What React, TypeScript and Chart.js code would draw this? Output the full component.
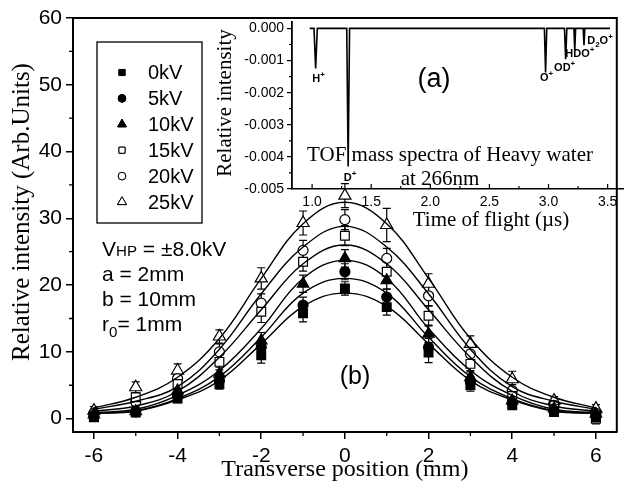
import React, { useEffect, useRef } from "react";
import { Chart, registerables } from "chart.js";
import { drawPoint } from "chart.js/helpers";

Chart.register(...registerables);

// ---------- panel (b): transverse profiles ----------
const positions = [-6, -5, -4, -3, -2, -1, 0, 1, 2, 3, 4, 5, 6];
const seriesLabels = ["0kV", "5kV", "10kV", "15kV", "20kV", "25kV"];

const values0kV = [0.3, 0.9, 3.0, 5.2, 9.5, 15.8, 19.5, 16.7, 9.9, 5.0, 2.0, 1.0, 0.2];
const values5kV = [0.5, 1.0, 3.4, 5.7, 10.7, 17.0, 22.0, 18.2, 10.7, 5.5, 2.4, 1.2, 0.5];
const values10kV = [0.6, 1.1, 4.2, 6.7, 11.7, 20.2, 24.0, 20.7, 12.7, 6.2, 2.7, 1.5, 0.7];
const values15kV = [0.2, 3.2, 5.2, 8.5, 16.0, 23.5, 27.4, 22.0, 15.4, 8.2, 3.4, 1.5, 0.0];
const values20kV = [0.8, 2.5, 6.0, 10.0, 17.3, 25.2, 29.8, 24.0, 18.4, 9.7, 4.2, 2.0, 0.8];
const values25kV = [1.2, 4.7, 7.2, 12.3, 21.0, 29.3, 33.4, 29.0, 20.2, 11.2, 5.9, 2.7, 1.5];

const errors0kV = [0.5, 0.4, 0.6, 0.8, 1.2, 1.3, 1.0, 1.2, 1.5, 0.9, 0.6, 0.5, 0.6];
const errors5kV = [0.5, 0.4, 0.6, 0.8, 1.0, 1.2, 1.2, 1.2, 1.3, 0.8, 0.6, 0.5, 0.6];
const errors10kV = [0.5, 0.5, 0.7, 1.0, 1.2, 1.3, 1.3, 1.3, 1.3, 0.8, 0.7, 0.5, 0.6];
const errors15kV = [0.6, 0.6, 0.8, 1.2, 1.6, 1.4, 1.5, 1.5, 1.5, 1.0, 0.8, 0.6, 0.8];
const errors20kV = [0.6, 0.6, 0.9, 1.2, 1.4, 1.5, 1.5, 1.5, 1.5, 1.0, 0.9, 0.6, 0.7];
const errors25kV = [0.6, 0.8, 1.0, 1.0, 1.6, 1.8, 1.8, 2.5, 1.5, 1.2, 1.2, 0.6, 0.6];

const fit0kV = [0.8, 1.1, 2.8, 5.7, 11.2, 16.8, 18.8, 16.8, 11.2, 5.7, 2.8, 1.1, 0.8];
const fit5kV = [0.8, 1.2, 3.0, 6.3, 12.2, 18.8, 21.0, 18.8, 12.2, 6.3, 3.0, 1.2, 0.8];
const fit10kV = [0.9, 1.4, 3.5, 7.2, 13.5, 21.0, 23.7, 21.0, 13.5, 7.2, 3.5, 1.4, 0.9];
const fit15kV = [1.1, 1.9, 4.1, 9.2, 16.3, 23.2, 26.0, 23.2, 16.3, 9.2, 4.1, 1.9, 1.1];
const fit20kV = [1.4, 2.6, 4.8, 10.4, 18.7, 25.7, 28.8, 25.7, 18.7, 10.4, 4.8, 2.6, 1.4];
const fit25kV = [1.6, 3.2, 6.2, 12.0, 21.0, 29.2, 32.4, 29.2, 21.0, 12.0, 6.2, 3.2, 1.6];

const xTickValues = [-6, -4, -2, 0, 2, 4, 6];
const xMinorTicks = [-5, -3, -1, 1, 3, 5];
const yTickValues = [0, 10, 20, 30, 40, 50, 60];
const yMinorTicks = [5, 15, 25, 35, 45, 55];

// ---------- panel (a): TOF mass spectrum ----------
const tofTime = [0.98, 1.016, 1.03, 1.044, 1.293, 1.305, 1.317, 2.965, 2.975, 2.985, 3.135, 3.145, 3.155, 3.215, 3.222, 3.229, 3.293, 3.3, 3.307, 3.52];
const tofIntensity = [0, 0, -0.00125, 0, 0, -0.0043, 0, 0, -0.00137, 0, 0, -0.00096, 0, 0, -0.0007, 0, 0, -0.00052, 0, 0];
const insetXTicks = [1.0, 1.5, 2.0, 2.5, 3.0, 3.5];
const insetXTickLabels = ["1.0", "1.5", "2.0", "2.5", "3.0", "3.5"];
const insetXMinor = [1.25, 1.75, 2.25, 2.75, 3.25];
const insetYTicks = [0, -0.001, -0.002, -0.003, -0.004, -0.005];
const insetYTickLabels = ["0.000", "-0.001", "-0.002", "-0.003", "-0.004", "-0.005"];
const insetYMinor = [-0.0005, -0.0015, -0.0025, -0.0035, -0.0045];
const ionPeakTimes = [1.03, 1.305, 2.975, 3.145, 3.222, 3.3];
const ionPeakDepths = [-0.00125, -0.0043, -0.00137, -0.00096, -0.0007, -0.00052];

type Seg = { t: string; sub?: boolean; sup?: boolean; small?: boolean };
const ionLabels: Seg[][] = [
  [{ t: "H" }, { t: "+", sup: true }],
  [{ t: "D" }, { t: "+", sup: true }],
  [{ t: "O" }, { t: "+", sup: true }],
  [{ t: "OD" }, { t: "+", sup: true }],
  [{ t: "HDO" }, { t: "+", sup: true }],
  [{ t: "D" }, { t: "2", sub: true }, { t: "O" }, { t: "+", sup: true }],
];

const SANS = '"Liberation Sans", Arial, sans-serif';
const SERIF = '"Liberation Serif", "Times New Roman", serif';

const markerStyles = ["rect", "circle", "triangle", "rect", "circle", "triangle"];
const markerFilled = [true, true, true, false, false, false];
const markerRadius = [6.2, 5, 6.6, 6.2, 5, 7];
const legendRadius = [4.3, 3.8, 5, 4.3, 3.8, 5.2];

function drawRich(ctx: CanvasRenderingContext2D, segs: Seg[], x: number, y: number, size: number, family: string, weight = "normal", align = "left") {
  const parts = segs.map((s) => {
    const sz = s.sub || s.sup || s.small ? size * 0.72 : size;
    ctx.font = `${weight} ${sz}px ${family}`;
    return { ...s, sz, w: ctx.measureText(s.t).width };
  });
  const total = parts.reduce((a, p) => a + p.w, 0);
  let cx = align === "center" ? x - total / 2 : x;
  ctx.textAlign = "left";
  ctx.textBaseline = "alphabetic";
  for (const p of parts) {
    ctx.font = `${weight} ${p.sz}px ${family}`;
    const dy = p.sub ? size * 0.3 : p.sup ? -size * 0.45 : 0;
    ctx.fillText(p.t, cx, y + dy);
    cx += p.w;
  }
}

const errorBarPlugin = {
  id: "errorBars",
  beforeDatasetsDraw(chart: any) {
    const { ctx, scales } = chart;
    ctx.save();
    ctx.strokeStyle = "#000";
    ctx.lineWidth = 1.2;
    chart.data.datasets.forEach((ds: any) => {
      if (!ds.errors) return;
      ds.data.forEach((pt: any, j: number) => {
        const e = ds.errors[j];
        const px = scales.x.getPixelForValue(pt.x);
        const top = scales.y.getPixelForValue(pt.y + e);
        const bot = scales.y.getPixelForValue(pt.y - e);
        ctx.beginPath();
        ctx.moveTo(px, top);
        ctx.lineTo(px, bot);
        ctx.moveTo(px - 4, top);
        ctx.lineTo(px + 4, top);
        ctx.moveTo(px - 4, bot);
        ctx.lineTo(px + 4, bot);
        ctx.stroke();
      });
    });
    ctx.restore();
  },
};

const mainDecorPlugin = {
  id: "mainDecor",
  afterDraw(chart: any) {
    const { ctx, chartArea: a, scales } = chart;
    const x = scales.x;
    const y = scales.y;
    ctx.save();
    ctx.strokeStyle = "#000";
    ctx.fillStyle = "#000";
    // frame
    ctx.lineWidth = 2;
    ctx.beginPath();
    ctx.moveTo(a.left, a.top);
    ctx.lineTo(a.right, a.top);
    ctx.lineTo(a.right, a.bottom);
    ctx.stroke();
    // minor ticks
    ctx.lineWidth = 1.3;
    ctx.beginPath();
    for (const v of xMinorTicks) {
      const px = x.getPixelForValue(v);
      ctx.moveTo(px, a.bottom);
      ctx.lineTo(px, a.bottom + 4);
    }
    for (const v of yMinorTicks) {
      const py = y.getPixelForValue(v);
      ctx.moveTo(a.left, py);
      ctx.lineTo(a.left - 4, py);
    }
    ctx.stroke();
    // legend
    ctx.lineWidth = 1.3;
    ctx.strokeRect(97, 42, 105, 181);
    seriesLabels.forEach((lab, i) => {
      const cy = 72.5 + i * 25.9;
      ctx.fillStyle = markerFilled[i] ? "#000" : "#fff";
      ctx.strokeStyle = "#000";
      ctx.lineWidth = 1;
      drawPoint(ctx, { pointStyle: markerStyles[i] as any, radius: legendRadius[i], rotation: 0, borderWidth: 1 } as any, 122, cy);
      ctx.fill();
      ctx.stroke();
      ctx.fillStyle = "#000";
      ctx.font = `20px ${SANS}`;
      ctx.textAlign = "left";
      ctx.textBaseline = "middle";
      ctx.fillText(lab, 148, cy + 1);
    });
    // parameters
    ctx.fillStyle = "#000";
    drawRich(ctx, [{ t: "V" }, { t: "HP", small: true }, { t: " = \u00b18.0kV" }], 102, 256, 21, SANS);
    drawRich(ctx, [{ t: "a = 2mm" }], 102, 281, 21, SANS);
    drawRich(ctx, [{ t: "b = 10mm" }], 102, 306, 21, SANS);
    drawRich(ctx, [{ t: "r" }, { t: "0", sub: true }, { t: "= 1mm" }], 102, 331, 21, SANS);
    // panel label
    ctx.font = `25px ${SANS}`;
    ctx.textAlign = "center";
    ctx.textBaseline = "middle";
    ctx.fillText("(b)", 355, 377);
    // axis titles
    ctx.font = `24px ${SERIF}`;
    ctx.textAlign = "center";
    ctx.textBaseline = "alphabetic";
    ctx.fillText("Transverse position (mm)", x.getPixelForValue(0), 476);
    ctx.save();
    ctx.translate(28.5, 212);
    ctx.rotate(-Math.PI / 2);
    ctx.font = `25px ${SERIF}`;
    ctx.fillText("Relative intensity (Arb.Units)", 0, 0);
    ctx.restore();
    ctx.restore();
  },
};

const insetDecorPlugin = {
  id: "insetDecor",
  afterDraw(chart: any) {
    const { ctx, chartArea: a, scales } = chart;
    const x = scales.x;
    const y = scales.y;
    ctx.save();
    ctx.strokeStyle = "#000";
    ctx.fillStyle = "#000";
    ctx.lineWidth = 1.2;
    ctx.beginPath();
    for (const v of insetYMinor) {
      const py = y.getPixelForValue(v);
      ctx.moveTo(a.left, py);
      ctx.lineTo(a.left - 3, py);
    }
    for (const v of insetXTicks) {
      const px = x.getPixelForValue(v);
      ctx.moveTo(px, a.bottom);
      ctx.lineTo(px, a.bottom - 5);
    }
    for (const v of insetXMinor) {
      const px = x.getPixelForValue(v);
      ctx.moveTo(px, a.bottom);
      ctx.lineTo(px, a.bottom - 3);
    }
    ctx.stroke();
    // ion labels
    const offsets = [[3, 13], [2, 14], [1, 9], [-1, 12], [5, 6], [16, -1]];
    ionLabels.forEach((segs, i) => {
      const px = x.getPixelForValue(ionPeakTimes[i]) + offsets[i][0];
      const py = y.getPixelForValue(ionPeakDepths[i]) + offsets[i][1];
      drawRich(ctx, segs, px, py, 11, SANS, "bold", "center");
    });
    // texts
    ctx.font = `27px ${SANS}`;
    ctx.textAlign = "center";
    ctx.textBaseline = "middle";
    ctx.fillText("(a)", 434, 80);
    ctx.font = `21px ${SERIF}`;
    ctx.textBaseline = "alphabetic";
    ctx.fillText("TOF mass spectra of Heavy water", 450, 161);
    ctx.fillText("at 266nm", 440, 185);
    ctx.fillText("Time of flight (\u00b5s)", 491, 226);
    ctx.save();
    ctx.translate(231, 103);
    ctx.rotate(-Math.PI / 2);
    ctx.fillText("Relative intensity", 0, 0);
    ctx.restore();
    ctx.restore();
  },
};

function mainConfig(): any {
  const fits = [fit0kV, fit5kV, fit10kV, fit15kV, fit20kV, fit25kV];
  const values = [values0kV, values5kV, values10kV, values15kV, values20kV, values25kV];
  const errors = [errors0kV, errors5kV, errors10kV, errors15kV, errors20kV, errors25kV];
  return {
    type: "scatter",
    data: {
      datasets: [
        ...fits.map((f, i) => ({
          label: "fit " + seriesLabels[i],
          data: positions.map((p, j) => ({ x: p, y: f[j] })),
          showLine: true,
          borderColor: "#000",
          borderWidth: 1.4,
          pointRadius: 0,
          tension: 0.4,
          fill: false,
        })),
        ...values.map((v, i) => ({
          label: seriesLabels[i],
          data: positions.map((p, j) => ({ x: p, y: v[j] })),
          errors: errors[i],
          showLine: false,
          pointStyle: markerStyles[i],
          pointRadius: markerRadius[i],
          backgroundColor: markerFilled[i] ? "#000" : "#fff",
          borderColor: "#000",
          borderWidth: 1.2,
        })),
      ],
    },
    options: {
      responsive: false,
      animation: false,
      devicePixelRatio: 1,
      events: [],
      layout: { padding: { top: 18, right: 1, left: 0, bottom: 0 } },
      plugins: { legend: { display: false }, tooltip: { enabled: false } },
      scales: {
        x: {
          type: "linear",
          min: -6.5,
          max: 6.5,
          afterFit: (s: any) => { s.height = 49; },
          afterBuildTicks: (s: any) => { s.ticks = xTickValues.map((v) => ({ value: v })); },
          grid: { display: true, drawOnChartArea: false, drawTicks: true, tickLength: 7, color: "#000", lineWidth: 1.5 },
          border: { display: true, color: "#000", width: 2 },
          ticks: { color: "#000", font: { family: SANS, size: 21 }, padding: 5, maxRotation: 0, autoSkip: false },
        },
        y: {
          type: "linear",
          min: -2,
          max: 60,
          afterFit: (s: any) => { s.width = 73; },
          afterBuildTicks: (s: any) => { s.ticks = yTickValues.map((v) => ({ value: v })); },
          grid: { display: true, drawOnChartArea: false, drawTicks: true, tickLength: 7, color: "#000", lineWidth: 1.5 },
          border: { display: true, color: "#000", width: 2 },
          ticks: { color: "#000", font: { family: SANS, size: 21 }, padding: 4, autoSkip: false },
        },
      },
    },
    plugins: [errorBarPlugin, mainDecorPlugin],
  };
}

function insetConfig(): any {
  return {
    type: "line",
    data: {
      datasets: [
        {
          label: "TOF",
          data: tofTime.map((t, i) => ({ x: t, y: tofIntensity[i] })),
          borderColor: "#000",
          borderWidth: 1.6,
          pointRadius: 0,
          tension: 0,
          fill: false,
        },
      ],
    },
    options: {
      responsive: false,
      animation: false,
      devicePixelRatio: 1,
      events: [],
      layout: { padding: { top: 22, right: 2, left: 0, bottom: 262 } },
      plugins: { legend: { display: false }, tooltip: { enabled: false } },
      scales: {
        x: {
          type: "linear",
          min: 0.83,
          max: 3.63,
          afterFit: (s: any) => { s.height = 30; },
          afterBuildTicks: (s: any) => { s.ticks = insetXTicks.map((v) => ({ value: v })); },
          grid: { display: false },
          border: { display: true, color: "#000", width: 1.6 },
          ticks: {
            color: "#000",
            font: { family: SANS, size: 14 },
            padding: -3,
            maxRotation: 0,
            autoSkip: false,
            callback: (v: number) => insetXTickLabels[insetXTicks.indexOf(v)] ?? "",
          },
        },
        y: {
          type: "linear",
          min: -0.005,
          max: 0.0002,
          afterFit: (s: any) => { s.width = 292; },
          afterBuildTicks: (s: any) => { s.ticks = insetYTicks.map((v) => ({ value: v })); },
          grid: { display: true, drawOnChartArea: false, drawTicks: true, tickLength: 5, color: "#000", lineWidth: 1.2 },
          border: { display: true, color: "#000", width: 1.8 },
          ticks: {
            color: "#000",
            font: { family: SANS, size: 14 },
            padding: 3,
            autoSkip: false,
            callback: (v: number) => insetYTickLabels[insetYTicks.indexOf(v)] ?? "",
          },
        },
      },
    },
    plugins: [insetDecorPlugin],
  };
}

export default function App() {
  const mainRef = useRef<HTMLCanvasElement>(null);
  const insetRef = useRef<HTMLCanvasElement>(null);
  useEffect(() => {
    const main = new Chart(mainRef.current as HTMLCanvasElement, mainConfig());
    const inset = new Chart(insetRef.current as HTMLCanvasElement, insetConfig());
    return () => {
      main.destroy();
      inset.destroy();
    };
  }, []);
  return (
    <div style={{ position: "absolute", left: 0, top: 0, width: 625, height: 481, background: "#fff", overflow: "hidden" }}>
      <canvas ref={mainRef} width={625} height={481} style={{ position: "absolute", left: 0, top: 0 }} />
      <canvas ref={insetRef} width={625} height={481} style={{ position: "absolute", left: 0, top: 0 }} />
    </div>
  );
}
